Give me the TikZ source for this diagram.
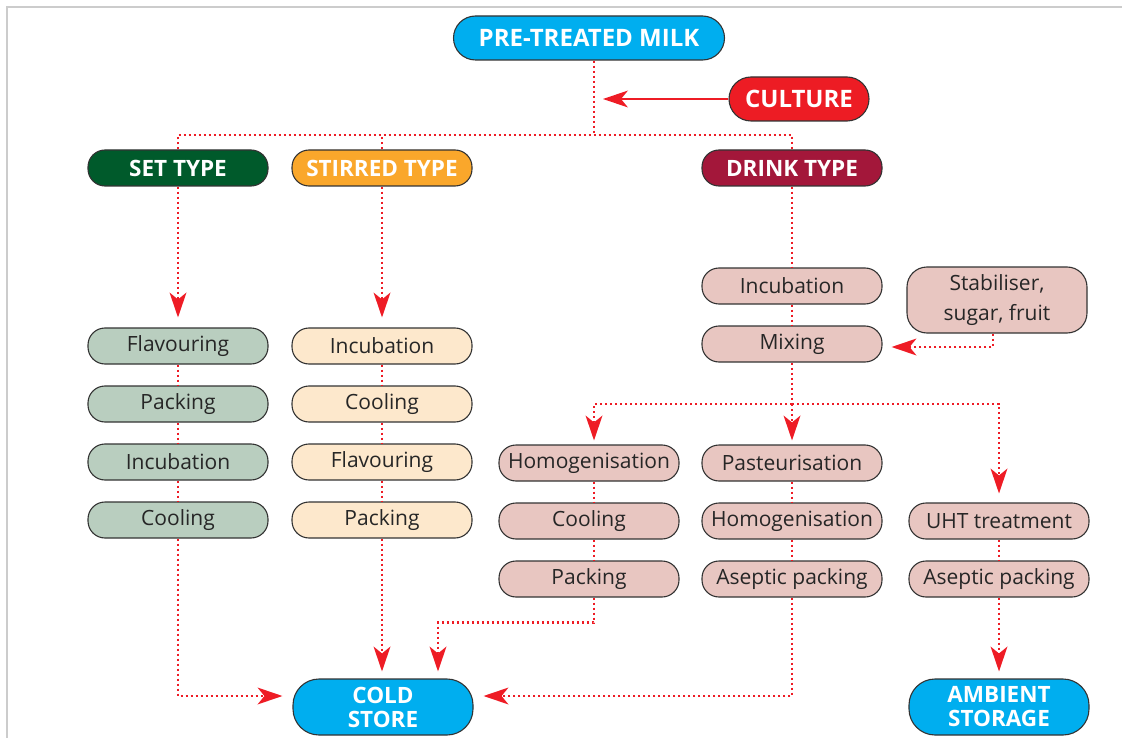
\documentclass[tikz,border=0pt]{standalone}
\usepackage{fontspec}
\setmainfont{Open Sans}
\usetikzlibrary{arrows.meta,calc}
\definecolor{cblue}{HTML}{00AEEF}
\definecolor{cred}{HTML}{ED1C24}
\definecolor{cgreen}{HTML}{005A2B}
\definecolor{corange}{HTML}{FAA72B}
\definecolor{cwine}{HTML}{A3173A}
\definecolor{fset}{HTML}{B9CEBF}
\definecolor{fstir}{HTML}{FDE8CC}
\definecolor{fdrink}{HTML}{E8C6C1}
\definecolor{aline}{HTML}{EE1C25}
\tikzset{
  box/.style={draw=black!80, line width=1.1pt, rounded corners=17pt, minimum width=180pt, minimum height=36pt, inner sep=0pt, align=center, font=\fontsize{21}{24}\selectfont, text=black!85},
  hdr/.style={box, font=\bfseries\fontsize{22.5}{25}\selectfont, text=white},
  big/.style={font=\bfseries\fontsize{24}{26}\selectfont},
  tall/.style={minimum height=56pt, rounded corners=26pt, font=\bfseries\fontsize{22.5}{24}\selectfont},
  setbox/.style={box, fill=fset},
  stirbox/.style={box, fill=fstir},
  drinkbox/.style={box, fill=fdrink},
  dotline/.style={draw=aline, line width=2.2pt, dash pattern=on 2.2pt off 2.8pt},
  tip/.style={-{Stealth[length=25pt,width=17pt,inset=7pt,line width=0pt,fill=aline]}},
  arr/.style={dotline, tip},
  solidarr/.style={draw=aline, line width=2pt, tip},
}
\begin{document}
\begin{tikzpicture}[x=1pt,y=-1pt]
\useasboundingbox (0,0) rectangle (1122,738);
\draw[black!20, line width=1.5pt] (7,738) -- (7,7) -- (1122,7);
% nodes
\node[hdr, big, fill=cblue, minimum width=271pt, minimum height=44pt, rounded corners=22pt] (milk) at (589,38) {PRE-TREATED MILK};
\node[hdr, big, fill=cred, minimum width=140pt, minimum height=44pt, rounded corners=22pt] (culture) at (799,99) {CULTURE};
\node[hdr, fill=cgreen] (set) at (178,168) {SET TYPE};
\node[hdr, fill=corange] (stir) at (382,168) {STIRRED TYPE};
\node[hdr, fill=cwine] (drink) at (792,168) {DRINK TYPE};
\node[setbox] (s1) at (178,346) {Flavouring};
\node[setbox] (s2) at (178,404) {Packing};
\node[setbox] (s3) at (178,462) {Incubation};
\node[setbox] (s4) at (178,520) {Cooling};
\node[stirbox] (t1) at (382,346) {Incubation};
\node[stirbox] (t2) at (382,404) {Cooling};
\node[stirbox] (t3) at (382,462) {Flavouring};
\node[stirbox] (t4) at (382,520) {Packing};
\node[drinkbox] (d1) at (792,286) {Incubation};
\node[drinkbox] (d2) at (792,344) {Mixing};
\node[drinkbox, minimum height=66pt, rounded corners=20pt, font=\fontsize{21}{30}\selectfont] (stab) at (997,300) {Stabiliser,\\sugar, fruit};
\node[drinkbox] (h1) at (589,463) {Homogenisation};
\node[drinkbox] (h2) at (589,521) {Cooling};
\node[drinkbox] (h3) at (589,579) {Packing};
\node[drinkbox] (p1) at (792,463) {Pasteurisation};
\node[drinkbox] (p2) at (792,521) {Homogenisation};
\node[drinkbox] (p3) at (792,579) {Aseptic packing};
\node[drinkbox] (u1) at (999,521) {UHT treatment};
\node[drinkbox] (u2) at (999,579) {Aseptic packing};
\node[hdr, tall, fill=cblue] (cold) at (383,707) {COLD\\STORE};
\node[hdr, tall, fill=cblue] (amb) at (999,707) {AMBIENT\\STORAGE};
% coordinates
\coordinate (cultin) at (603,99);
\coordinate (j1) at (594,135);
\coordinate (j2) at (792,404);
% connectors
\draw[solidarr] (culture.west) -- (cultin);
\draw[dotline] (milk.south -| j1) -- (j1);
\draw[dotline] (set.north) |- (j1) -| (drink.north);
\draw[dotline] (stir.north) -- (stir.north |- j1);
\draw[arr, shorten >=10pt] (set.south) -- (s1.north);
\draw[arr, shorten >=10pt] (stir.south) -- (t1.north);
\foreach \a/\b in {s1/s2,s2/s3,s3/s4,t1/t2,t2/t3,t3/t4,d1/d2,p1/p2,p2/p3,u1/u2}
  \draw[dotline] (\a.south) -- (\b.north);
\draw[dotline] ([xshift=5pt]h1.south) -- ([xshift=5pt]h2.north);
\draw[dotline] ([xshift=5pt]h2.south) -- ([xshift=5pt]h3.north);
\draw[dotline] (drink.south) -- (d1.north);
\draw[arr, shorten >=9pt] ([xshift=-4pt]stab.south) |- ([yshift=-3pt]d2.east);
\draw[dotline] (d2.south) -- (j2);
\draw[arr, shorten >=4pt] (j2) -| ([xshift=5pt]h1.north);
\draw[arr, shorten >=4pt] (j2) -- (p1.north);
\draw[arr, shorten >=9pt] (j2) -| (u1.north);
\draw[arr, shorten >=10pt] (s4.south) |- ([yshift=11pt]cold.west);
\draw[arr, shorten >=7pt] (t4.south) -- (t4.south |- cold.north);
\draw[arr, shorten >=7pt] ([xshift=5pt]h3.south) -- ++(0,25) -| ([xshift=55pt]cold.north);
\draw[arr, shorten >=10pt] (p3.south) |- ([yshift=11pt]cold.east);
\draw[arr, shorten >=7pt] (u2.south) -- (amb.north);
\end{tikzpicture}
\end{document}
